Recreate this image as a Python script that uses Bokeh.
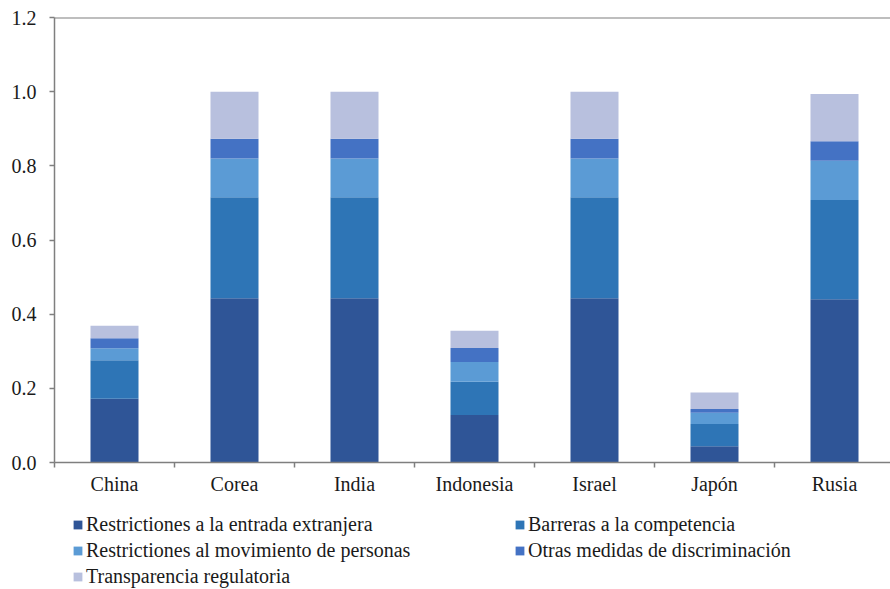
from bokeh.plotting import figure
from bokeh.layouts import column
from bokeh.models import (ColumnDataSource, Range1d, LinearAxis, FixedTicker,
                          PrintfTickFormatter, Span, Legend, LegendItem)
from bokeh.embed import file_html
from bokeh.resources import INLINE

# ---- data ----
countries = ["China", "Corea", "India", "Indonesia", "Israel", "Japón", "Rusia"]
series_names = [
    "Restrictiones a la entrada extranjera",
    "Barreras a la competencia",
    "Restrictiones al movimiento de personas",
    "Otras medidas de discriminación",
    "Transparencia regulatoria",
]
entrada = [0.172, 0.443, 0.443, 0.128, 0.443, 0.044, 0.440]
competencia = [0.104, 0.272, 0.272, 0.090, 0.272, 0.060, 0.268]
movimiento = [0.032, 0.105, 0.105, 0.053, 0.105, 0.030, 0.106]
otras = [0.027, 0.053, 0.053, 0.038, 0.053, 0.010, 0.052]
transparencia = [0.034, 0.127, 0.127, 0.046, 0.127, 0.045, 0.128]
y_ticks = [0.0, 0.2, 0.4, 0.6, 0.8, 1.0, 1.2]

colors = ["#2F5597", "#2E75B6", "#5B9BD5", "#4472C4", "#B8C0DE"]
keys = ["entrada", "competencia", "movimiento", "otras", "transparencia"]

xpos = list(range(len(countries)))
source = ColumnDataSource(dict(x=xpos, entrada=entrada, competencia=competencia,
                               movimiento=movimiento, otras=otras,
                               transparencia=transparencia))

FONT = "Liberation Serif"
FS = "20px"
AX = "#7f7f7f"
TXT = "#1a1a1a"

W = 890
H_MAIN = 497
H_LEG = 92

p = figure(width=W, height=H_MAIN, output_backend="svg", toolbar_location=None,
           x_range=Range1d(-0.5, -0.5 + 836 / 120.0), y_range=Range1d(0, 1.2),
           x_axis_type=None, y_axis_type=None,
           min_border_left=54, min_border_right=0, min_border_top=17,
           min_border_bottom=35)
p.outline_line_color = None
p.xgrid.visible = False
p.ygrid.visible = False
p.background_fill_color = "white"
p.border_fill_color = "white"

p.vbar_stack(keys, x="x", width=0.4, color=colors, line_color=None, source=source)

# y axis
yax = LinearAxis(ticker=FixedTicker(ticks=y_ticks, minor_ticks=[]),
                 formatter=PrintfTickFormatter(format="%.1f"))
yax.axis_line_color = AX
yax.axis_line_width = 1.5
yax.major_tick_line_color = AX
yax.major_tick_line_width = 1.5
yax.major_tick_out = 5
yax.major_tick_in = 0
yax.minor_tick_line_color = None
yax.major_label_text_font = FONT
yax.major_label_text_font_size = FS
yax.major_label_text_color = TXT
yax.major_label_standoff = 13
p.add_layout(yax, "left")

# x axis: labels at centres, ticks at category boundaries
bounds = [i - 0.5 for i in range(len(countries) + 1)]
xax = LinearAxis(ticker=FixedTicker(ticks=xpos, minor_ticks=bounds))
xax.major_label_overrides = {i: c for i, c in zip(xpos, countries)}
xax.axis_line_color = AX
xax.axis_line_width = 1.5
xax.major_tick_line_color = None
xax.major_tick_out = 0
xax.major_tick_in = 0
xax.minor_tick_line_color = AX
xax.minor_tick_line_width = 1.5
xax.minor_tick_out = 5
xax.minor_tick_in = 0
xax.major_label_text_font = FONT
xax.major_label_text_font_size = FS
xax.major_label_text_color = TXT
xax.major_label_standoff = 5
p.add_layout(xax, "below")

# top border line of the plot area
p.add_layout(Span(location=1.2, dimension="width", line_color=AX, line_width=2))

# ---- legend panel (separate figure below; its bars lie outside its view) ----
pl = figure(width=W, height=H_LEG, output_backend="svg", toolbar_location=None,
            x_range=Range1d(-100, -99), y_range=Range1d(0, 1),
            x_axis_type=None, y_axis_type=None,
            min_border_left=0, min_border_right=0, min_border_top=0,
            min_border_bottom=0)
pl.outline_line_color = None
pl.xgrid.visible = False
pl.ygrid.visible = False
pl.border_fill_color = "white"
pl.background_fill_color = "white"

leg_r = pl.vbar_stack(keys, x="x", width=0.4, color=colors, line_color=None,
                      source=source)


def make_legend(idx, loc):
    items = [LegendItem(label=series_names[i], renderers=[leg_r[i]]) for i in idx]
    lg = Legend(items=items, location=loc, orientation="vertical")
    lg.border_line_color = None
    lg.background_fill_alpha = 0
    lg.padding = 0
    lg.margin = 0
    lg.spacing = 0
    lg.label_height = 26
    lg.glyph_height = 11
    lg.glyph_width = 11
    lg.label_standoff = 3
    lg.label_text_font = FONT
    lg.label_text_font_size = FS
    lg.label_text_color = TXT
    return lg


pl.add_layout(make_legend([0, 2, 4], (18, 0)))
pl.add_layout(make_legend([1, 3], (460, 26)))

layout = column(p, pl, spacing=0)
open("out.html", "w").write(file_html(layout, INLINE))
